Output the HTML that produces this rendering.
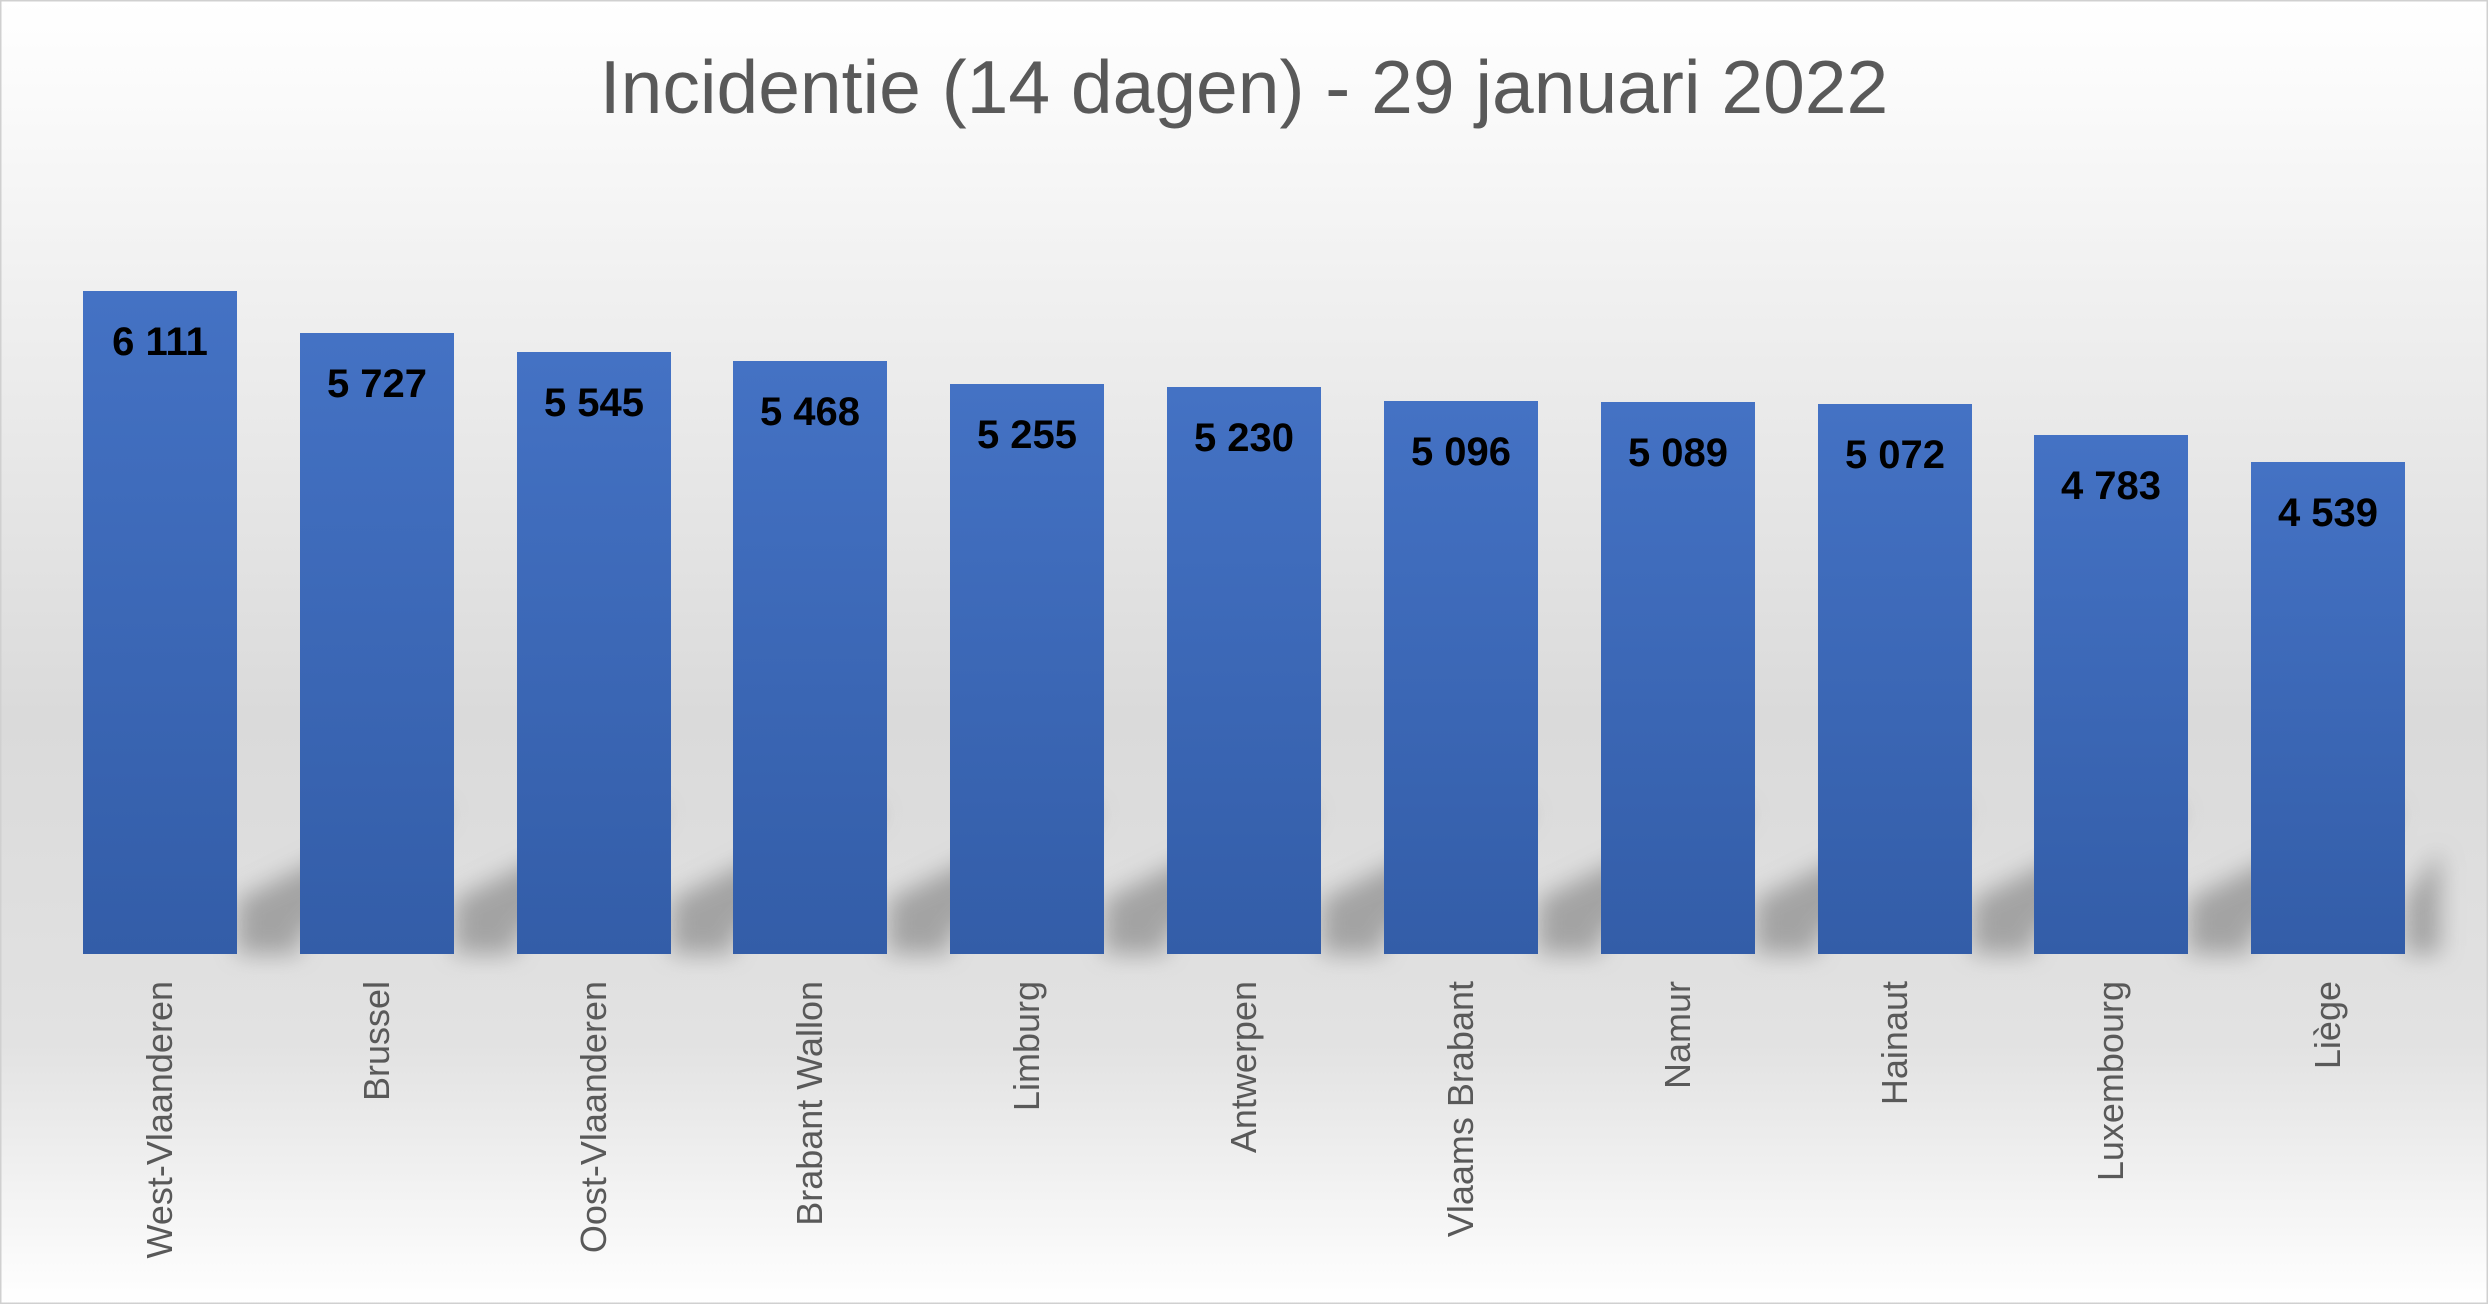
<!DOCTYPE html>
<html><head><meta charset="utf-8"><style>
html,body{margin:0;padding:0;}
body{width:2488px;height:1304px;overflow:hidden;}
</style></head><body>
<svg width="2488" height="1304" xmlns="http://www.w3.org/2000/svg" font-family="'Liberation Sans', sans-serif">
<defs>
<linearGradient id="bg" x1="0" y1="0" x2="0" y2="1">
<stop offset="0" stop-color="#ffffff"/>
<stop offset="0.12" stop-color="#f7f7f7"/>
<stop offset="0.55" stop-color="#dadada"/>
<stop offset="0.8" stop-color="#e2e2e2"/>
<stop offset="1" stop-color="#ffffff"/>
</linearGradient>
<linearGradient id="bar" x1="0" y1="0" x2="0" y2="1">
<stop offset="0" stop-color="#4472c4"/>
<stop offset="1" stop-color="#335da8"/>
</linearGradient>
<filter id="blur" x="-50%" y="-50%" width="200%" height="200%"><feGaussianBlur stdDeviation="12"/></filter>
</defs>
<rect x="0" y="0" width="2488" height="1304" fill="url(#bg)"/>
<rect x="0.5" y="0.5" width="2487" height="1303" fill="none" stroke="#d0d0d0" stroke-width="2"/>
<text x="1244" y="113" text-anchor="middle" font-size="75" fill="#595959">Incidentie (14 dagen) - 29 januari 2022</text>
<g id="shadows" fill="#999" opacity="0.85" filter="url(#blur)">
<polygon points="237,954 237,900 430,805 450,812 300,935 300,954"/>
<polygon points="454,954 454,900 647,805 667,812 517,935 517,954"/>
<polygon points="671,954 671,900 864,805 884,812 734,935 734,954"/>
<polygon points="888,954 888,900 1081,805 1101,812 950,935 950,954"/>
<polygon points="1104,954 1104,900 1297,805 1317,812 1167,935 1167,954"/>
<polygon points="1321,954 1321,900 1514,805 1534,812 1384,935 1384,954"/>
<polygon points="1538,954 1538,900 1731,805 1751,812 1601,935 1601,954"/>
<polygon points="1755,954 1755,900 1948,805 1968,812 1818,935 1818,954"/>
<polygon points="1972,954 1972,900 2165,805 2185,812 2034,935 2034,954"/>
<polygon points="2188,954 2188,900 2381,805 2401,812 2251,935 2251,954"/>
<polygon points="2405,954 2405,900 2440,850 2440,954"/>
</g>
<g fill="url(#bar)">
<rect x="83" y="291" width="154" height="663"/>
<rect x="300" y="333" width="154" height="621"/>
<rect x="517" y="352" width="154" height="602"/>
<rect x="733" y="361" width="154" height="593"/>
<rect x="950" y="384" width="154" height="570"/>
<rect x="1167" y="387" width="154" height="567"/>
<rect x="1384" y="401" width="154" height="553"/>
<rect x="1601" y="402" width="154" height="552"/>
<rect x="1818" y="404" width="154" height="550"/>
<rect x="2034" y="435" width="154" height="519"/>
<rect x="2251" y="462" width="154" height="492"/>
</g>
<g font-size="40" font-weight="bold" fill="#000" text-anchor="middle">
<text x="160" y="355">6 111</text>
<text x="377" y="397">5 727</text>
<text x="594" y="416">5 545</text>
<text x="810" y="425">5 468</text>
<text x="1027" y="448">5 255</text>
<text x="1244" y="451">5 230</text>
<text x="1461" y="465">5 096</text>
<text x="1678" y="466">5 089</text>
<text x="1895" y="468">5 072</text>
<text x="2111" y="499">4 783</text>
<text x="2328" y="526">4 539</text>
</g>
<g font-size="36" fill="#595959" text-anchor="end">
<text transform="translate(172,981) rotate(-90)">West-Vlaanderen</text>
<text transform="translate(389,981) rotate(-90)">Brussel</text>
<text transform="translate(606,981) rotate(-90)">Oost-Vlaanderen</text>
<text transform="translate(822,981) rotate(-90)">Brabant Wallon</text>
<text transform="translate(1039,981) rotate(-90)">Limburg</text>
<text transform="translate(1256,981) rotate(-90)">Antwerpen</text>
<text transform="translate(1473,981) rotate(-90)">Vlaams Brabant</text>
<text transform="translate(1690,981) rotate(-90)">Namur</text>
<text transform="translate(1907,981) rotate(-90)">Hainaut</text>
<text transform="translate(2123,981) rotate(-90)">Luxembourg</text>
<text transform="translate(2340,981) rotate(-90)">Liège</text>
</g>
</svg>
</body></html>
